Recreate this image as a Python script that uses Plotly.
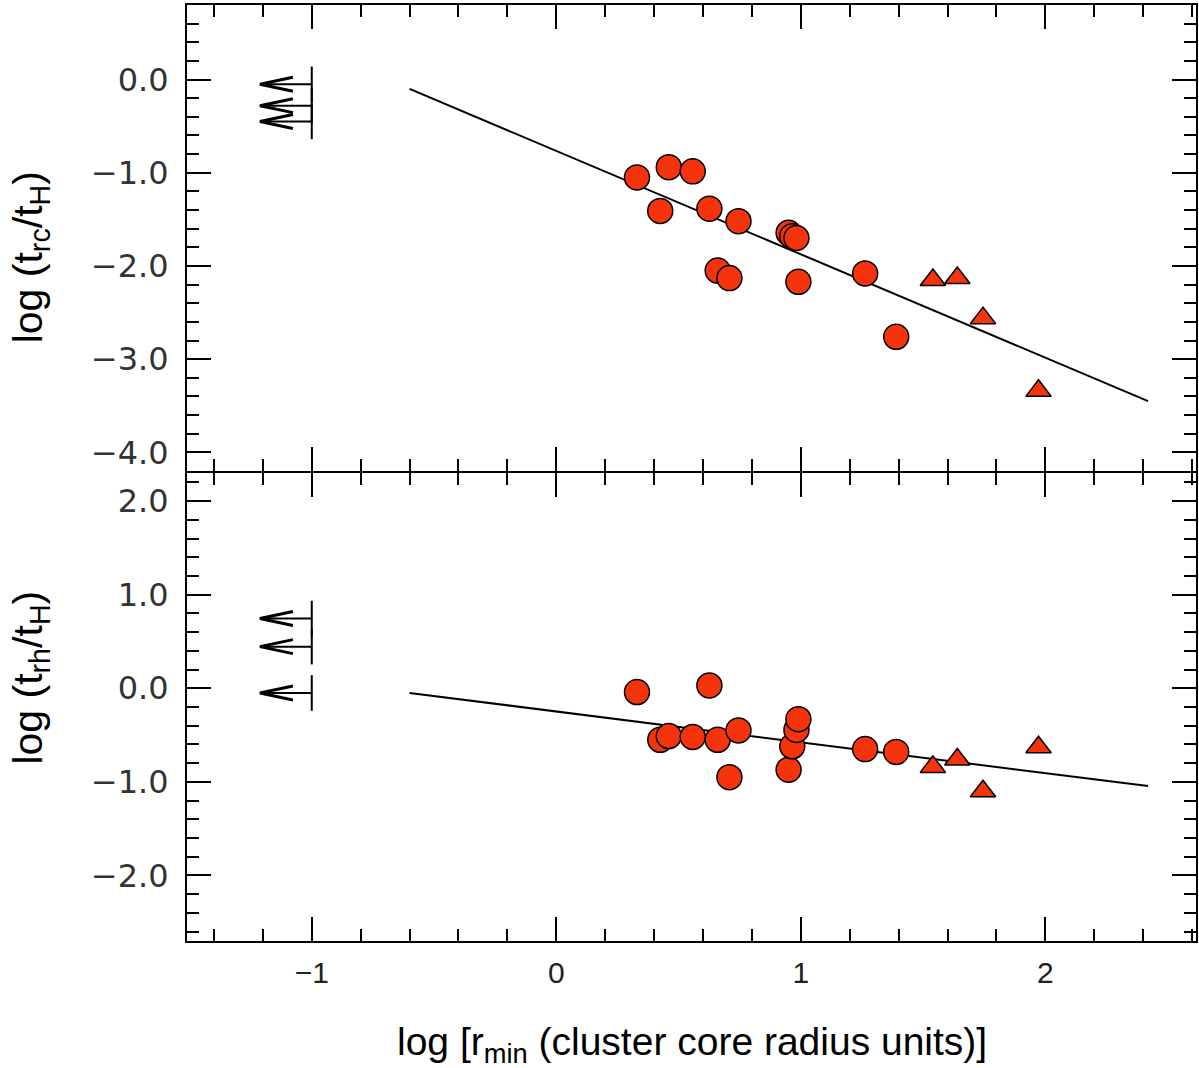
import plotly.graph_objects as go
from plotly.subplots import make_subplots

# ---------------- data ----------------
x_circ = [0.33, 0.425, 0.46, 0.558, 0.626, 0.66, 0.708, 0.745, 0.95, 0.965, 0.982, 0.99, 1.263, 1.39]
y_rc_circ = [-1.05, -1.41, -0.94, -0.985, -1.385, -2.05, -2.13, -1.52, -1.645, -1.68, -1.70, -2.17, -2.08, -2.76]
y_rh_circ = [-0.04, -0.55, -0.51, -0.52, 0.03, -0.55, -0.95, -0.45, -0.87, -0.62, -0.445, -0.33, -0.65, -0.68]

x_tri = [1.54, 1.64, 1.745, 1.972]
y_rc_tri = [-2.15, -2.13, -2.56, -3.34]
y_rh_tri = [-0.84, -0.76, -1.10, -0.63]

fit_x = [-0.6, 2.42]
fit_rc = [-0.10, -3.45]
fit_rh = [-0.05, -1.045]

lim_x = -1.0
lim_rc = [-0.05, -0.28, -0.45]
lim_rh = [0.745, 0.445, -0.05]

x_tickvals = [-1, 0, 1, 2]
x_ticktext = ["\u22121", "0", "1", "2"]

# ---------------- style ----------------
RED = "#F5330D"
SHAFT = 0.212   # arrow length (x units)
HEAD_L = 0.135  # head arm length (x units)
HEAD_H = 0.075  # head half height (y units)
BAR_H = 0.19    # bar half height (y units)
PLOT_H = 936


def limit_paths(xl, ys):
    sx, sy, hx, hy = [], [], [], []
    for y in ys:
        tip = xl - SHAFT
        sx += [xl, tip, None, xl, xl, None]
        sy += [y, y, None, y - BAR_H, y + BAR_H, None]
        hx += [tip + HEAD_L, tip, tip + HEAD_L, None]
        hy += [y + HEAD_H, y, y - HEAD_H, None]
    return sx, sy, hx, hy


fig = make_subplots(rows=2, cols=1, shared_xaxes=True, vertical_spacing=0)

for row, yc, yt, yf, yl in [(1, y_rc_circ, y_rc_tri, fit_rc, lim_rc),
                            (2, y_rh_circ, y_rh_tri, fit_rh, lim_rh)]:
    fig.add_trace(go.Scatter(x=fit_x, y=yf, mode="lines",
                             line=dict(color="black", width=2), hoverinfo="skip"),
                  row=row, col=1)
    sx, sy, hx, hy = limit_paths(lim_x, yl)
    fig.add_trace(go.Scatter(x=sx, y=sy, mode="lines",
                             line=dict(color="black", width=2)), row=row, col=1)
    fig.add_trace(go.Scatter(x=hx, y=hy, mode="lines",
                             line=dict(color="black", width=3)), row=row, col=1)
    fig.add_trace(go.Scatter(x=x_circ, y=yc, mode="markers",
                             marker=dict(symbol="circle", size=25, color=RED,
                                         line=dict(color="black", width=1.5))),
                  row=row, col=1)
    fig.add_trace(go.Scatter(x=x_tri, y=yt, mode="markers",
                             marker=dict(symbol="triangle-up", size=22, color=RED,
                                         line=dict(color="black", width=1.5))),
                  row=row, col=1)

common = dict(showline=True, linecolor="black", linewidth=2, mirror="ticks",
              ticks="inside", ticklen=24, tickwidth=2, tickcolor="black",
              showgrid=False, zeroline=False,
              minor=dict(ticks="inside", ticklen=12, tickwidth=2, tickcolor="black",
                         dtick=0.2, tick0=0, showgrid=False))

fig.update_xaxes(range=[-1.5102, 2.616], tickmode="array", tickvals=x_tickvals,
                 ticktext=x_ticktext, **common)
fig.update_xaxes(showticklabels=False, row=1, col=1)
fig.update_xaxes(showticklabels=True, ticklabelstandoff=4,
                 tickfont=dict(family="Liberation Sans", size=30, color="#222"),
                 row=2, col=1)

fig.update_yaxes(dtick=1, tick0=0, tickformat=".1f", ticklabelstandoff=10,
                 tickfont=dict(family="DejaVu Sans", size=32, color="#333"), **common)
fig.update_yaxes(range=[-4.2, 0.8], domain=[0.5 + 2.0 / PLOT_H, 1], row=1, col=1)
fig.update_yaxes(range=[-2.7, 2.3], domain=[0, 0.5], row=2, col=1)

ytitle_font = dict(family="Liberation Sans", size=41, color="black")
xtitle_font = dict(family="Liberation Sans", size=39, color="black")
fig.add_annotation(text="log (t<sub>rc</sub>/t<sub>H</sub>)", textangle=-90,
                   xref="paper", yref="paper", x=-0.155, y=0.73,
                   xanchor="center", yanchor="middle", showarrow=False, font=ytitle_font)
fig.add_annotation(text="log (t<sub>rh</sub>/t<sub>H</sub>)", textangle=-90,
                   xref="paper", yref="paper", x=-0.155, y=0.281,
                   xanchor="center", yanchor="middle", showarrow=False, font=ytitle_font)
fig.add_annotation(text="log [r<sub>min</sub> (cluster core radius units)]",
                   xref="paper", yref="paper", x=0.5, y=-0.111,
                   xanchor="center", yanchor="middle", showarrow=False, font=xtitle_font)

fig.update_layout(width=1199, height=1068, showlegend=False,
                  margin=dict(l=187, r=1, t=5, b=127),
                  plot_bgcolor="white", paper_bgcolor="white")

fig.write_html("out.html", config={"displayModeBar": False},
               post_script="document.body.style.margin='0';")
